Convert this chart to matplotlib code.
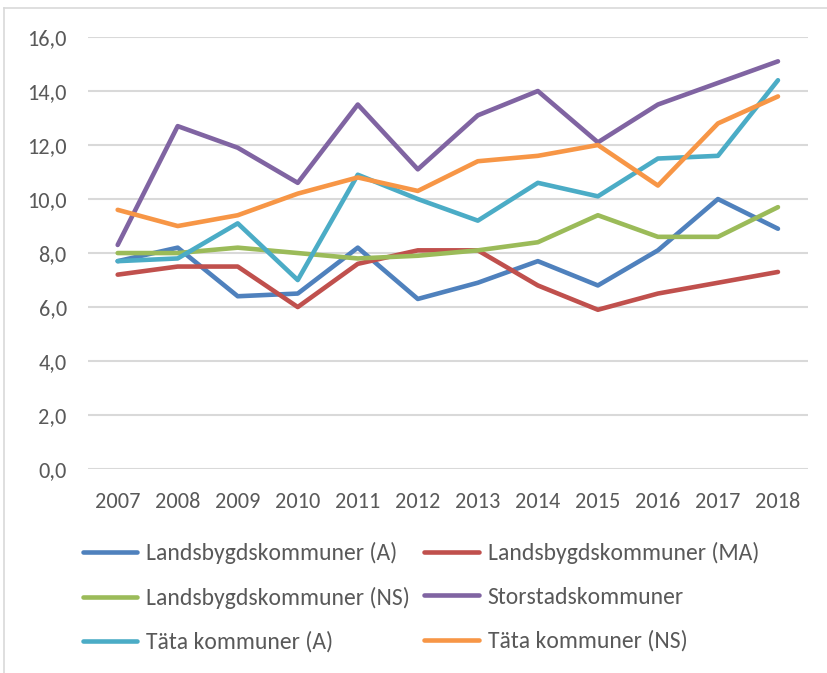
import matplotlib
matplotlib.use('Agg')
import matplotlib.pyplot as plt
from matplotlib import font_manager
from matplotlib.lines import Line2D

years = ['2007', '2008', '2009', '2010', '2011', '2012',
         '2013', '2014', '2015', '2016', '2017', '2018']

landsbygd_a = [7.7, 8.2, 6.4, 6.5, 8.2, 6.3, 6.9, 7.7, 6.8, 8.1, 10.0, 8.9]
landsbygd_ma = [7.2, 7.5, 7.5, 6.0, 7.6, 8.1, 8.1, 6.8, 5.9, 6.5, 6.9, 7.3]
landsbygd_ns = [8.0, 8.0, 8.2, 8.0, 7.8, 7.9, 8.1, 8.4, 9.4, 8.6, 8.6, 9.7]
storstad = [8.3, 12.7, 11.9, 10.6, 13.5, 11.1, 13.1, 14.0, 12.1, 13.5, 14.3, 15.1]
tata_a = [7.7, 7.8, 9.1, 7.0, 10.9, 10.0, 9.2, 10.6, 10.1, 11.5, 11.6, 14.4]
tata_ns = [9.6, 9.0, 9.4, 10.2, 10.8, 10.3, 11.4, 11.6, 12.0, 10.5, 12.8, 13.8]

series = [
    ('Landsbygdskommuner (A)', landsbygd_a, '#4F81BD'),
    ('Landsbygdskommuner (MA)', landsbygd_ma, '#C0504D'),
    ('Landsbygdskommuner (NS)', landsbygd_ns, '#9BBB59'),
    ('Storstadskommuner', storstad, '#8064A2'),
    ('Täta kommuner (A)', tata_a, '#4BACC6'),
    ('Täta kommuner (NS)', tata_ns, '#F79646'),
]
yticks = [0, 2, 4, 6, 8, 10, 12, 14, 16]

# Calibri look-alike if we have it
installed = {f.name for f in font_manager.fontManager.ttflist}
fam = 'Carlito' if 'Carlito' in installed else 'Liberation Sans'
plt.rcParams['font.family'] = [fam, 'DejaVu Sans']
fs = 16 if fam == 'Carlito' else 12.5
lfs = 17 if fam == 'Carlito' else 13

fig = plt.figure(figsize=(8.27, 6.73), dpi=100)
ax = fig.add_axes([0.106, 0.303, 0.871, 0.642])

x = list(range(len(years)))
for name, vals, col in series:
    ax.plot(x, vals, color=col, lw=3.3, label=name,
            solid_capstyle='round', solid_joinstyle='round', zorder=3)

ax.set_xlim(-0.5, len(years) - 0.5)
ax.set_ylim(0, 16)
ax.set_yticks(yticks)
ax.set_yticklabels([f'{v:.1f}'.replace('.', ',') for v in yticks])
ax.set_xticks(x)
ax.set_xticklabels(years)
ax.grid(axis='y', color='#D9D9D9', lw=1.5, zorder=0)
for s in ax.spines.values():
    s.set_visible(False)
ax.tick_params(length=0, labelsize=fs, colors='#595959')
ax.tick_params(axis='x', pad=16.5)
ax.tick_params(axis='y', pad=15)

# chart frame
fig.add_artist(Line2D([4 / 827, 4 / 827], [0, 1 - 8 / 673], color='#D9D9D9', lw=1.2))
fig.add_artist(Line2D([4 / 827, 1], [1 - 8 / 673, 1 - 8 / 673], color='#D9D9D9', lw=1.2))

# legend filled row by row like Excel
order = [0, 2, 4, 1, 3, 5]
handles = [Line2D([], [], color=series[i][2], lw=3.3, solid_capstyle='round') for i in order]
labels = [series[i][0] for i in order]
fig.legend(handles, labels, ncol=2, loc='upper left',
           bbox_to_anchor=(83 / 827, 1 - 542 / 673), frameon=False,
           borderpad=0, borderaxespad=0,
           fontsize=lfs, handlelength=2.3, handletextpad=0.38,
           columnspacing=0.6, labelspacing=0.96, labelcolor='#595959')

fig.savefig('out.png', dpi=100)
